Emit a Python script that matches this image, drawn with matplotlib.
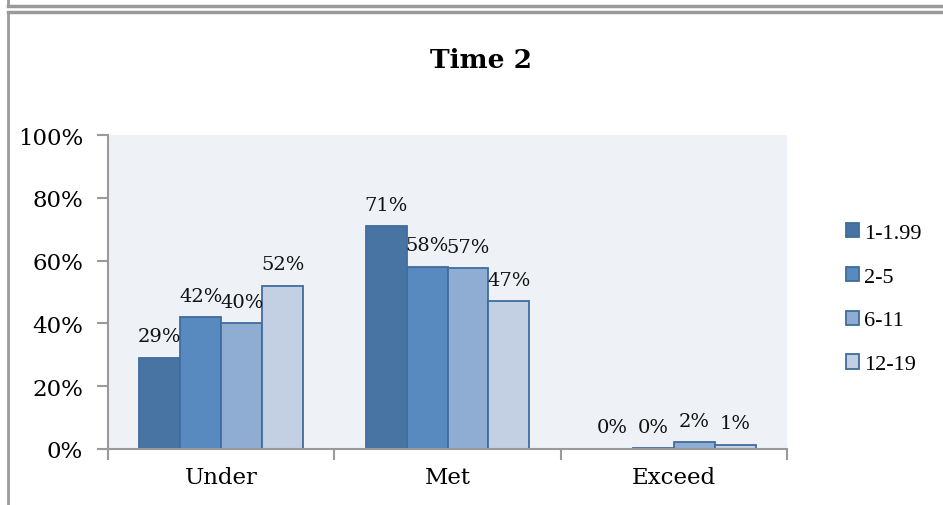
import matplotlib
matplotlib.use("Agg")
import matplotlib.pyplot as plt
from matplotlib.lines import Line2D
from matplotlib.patches import Patch
import numpy as np

categories = ["Under", "Met", "Exceed"]
series_names = ["1-1.99", "2-5", "6-11", "12-19"]
values = {
    "1-1.99": [0.29, 0.71, 0.000],
    "2-5":    [0.42, 0.58, 0.003],
    "6-11":   [0.40, 0.575, 0.022],
    "12-19":  [0.52, 0.47, 0.013],
}
y_ticks = [0.0, 0.2, 0.4, 0.6, 0.8, 1.0]
title = "Time 2"

fills = ["#4774a3", "#5889bf", "#8fadd3", "#c3cfe3"]
edge = "#3f6d9e"
grey = "#9a9a9a"
serif = "DejaVu Serif"

fig = plt.figure(figsize=(9.43, 5.06), dpi=100)
ax = fig.add_axes([0.1145, 0.1107, 0.7201, 0.6205])
ax.set_facecolor("#eef1f6")

x = np.arange(len(categories))
w = 0.181
for i, name in enumerate(series_names):
    pos = x + (i - 1.5) * w
    vals = values[name]
    ax.bar(pos, vals, width=w, color=fills[i], edgecolor=edge, linewidth=1.3, zorder=2)
    for px, v in zip(pos, vals):
        ax.annotate(f"{round(v * 100):.0f}%", (px, v), xytext=(0, 9),
                    textcoords="offset points", ha="center", va="bottom",
                    fontsize=14, family=serif, color="#111111")

ax.set_xlim(-0.5, len(categories) - 0.5)
ax.set_ylim(0, 1.0)
ax.set_yticks(y_ticks)
ax.set_yticklabels([f"{t * 100:.0f}%" for t in y_ticks], family=serif, fontsize=16.5)

# category labels between boundary ticks
ax.set_xticks(np.arange(-0.5, len(categories), 1.0))
ax.set_xticklabels([])
ax.set_xticks(x, minor=True)
ax.set_xticklabels(categories, minor=True, family=serif, fontsize=16.5)
ax.tick_params(axis="x", which="minor", length=0, pad=12)
ax.tick_params(axis="x", which="major", length=8, width=1.5, color=grey, direction="out")
ax.tick_params(axis="y", length=8, width=1.5, color=grey, direction="out", pad=10)

for s in ["top", "right"]:
    ax.spines[s].set_visible(False)
for s in ["left", "bottom"]:
    ax.spines[s].set_color(grey)
    ax.spines[s].set_linewidth(1.5)

fig.text(0.51, 0.88, title, ha="center", va="center", fontsize=19,
         fontweight="bold", family=serif)

handles = [Patch(facecolor=fills[i], edgecolor=edge, linewidth=1.3) for i in range(4)]
fig.legend(handles, series_names, loc="center left", bbox_to_anchor=(0.897, 0.408),
           frameon=False, prop={"family": "Liberation Serif", "size": 16},
           handlelength=0.6, handleheight=0.6, handletextpad=0.2,
           labelspacing=1.08, borderpad=0, borderaxespad=0)

# surrounding frame lines
fig.add_artist(Line2D([8 / 943, 1.0], [1 - 7 / 506, 1 - 7 / 506], color=grey, lw=2.5))
fig.add_artist(Line2D([8 / 943, 8 / 943], [1.0, 1 - 7 / 506], color=grey, lw=2))
fig.add_artist(Line2D([8 / 943, 1.0], [1 - 13 / 506, 1 - 13 / 506], color=grey, lw=2.5))
fig.add_artist(Line2D([8 / 943, 8 / 943], [0.0, 1 - 13 / 506], color=grey, lw=2))

fig.savefig("out.png", dpi=100)
